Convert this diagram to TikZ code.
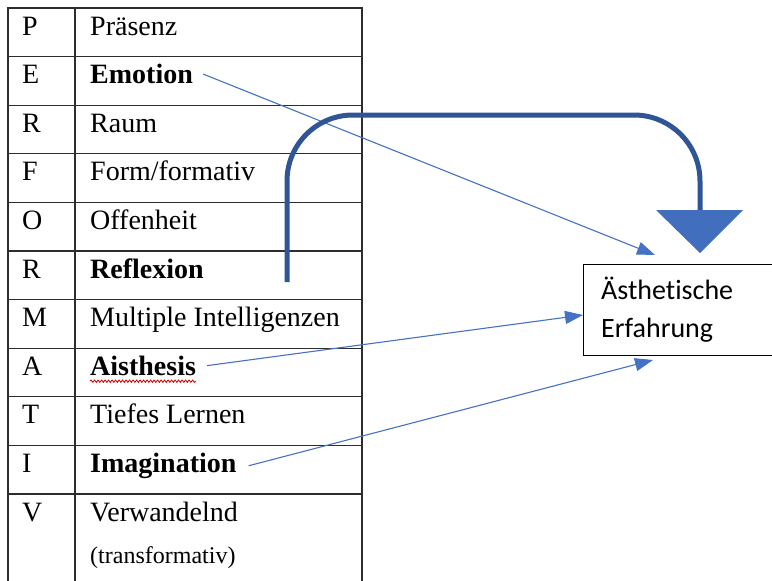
\documentclass[tikz,border=0pt]{standalone}
\usepackage{fontspec}
\setmainfont{Liberation Serif}
\newfontfamily\boxfont[RawFeature={-liga;-clig;-calt}]{Carlito}
\usetikzlibrary{arrows.meta,decorations.pathmorphing}
\definecolor{thinblue}{RGB}{68,114,196}
\definecolor{thickblue}{RGB}{47,85,151}
\definecolor{gridgray}{RGB}{45,45,45}
\begin{document}
\begin{tikzpicture}[x=1pt,y=-1pt,
  cell/.style={anchor=base west,inner sep=0pt,font=\fontsize{28}{34}\selectfont},
  bcell/.style={cell,font=\fontsize{28}{34}\selectfont\bfseries},
  scell/.style={anchor=base west,inner sep=0pt,font=\fontsize{24}{28}\selectfont},
  gridline/.style={draw=gridgray,line width=1.2pt},
  boxtext/.style={anchor=base west,inner sep=0pt,font=\boxfont\fontsize{28}{34}\selectfont},
  thinarrow/.style={draw=thinblue,line width=1.1pt,-{Triangle[width=13pt,length=18pt]}},
  thickconn/.style={draw=thickblue,line width=5pt,rounded corners=66pt},
  squiggle/.style={draw=red!85!black,line width=0.8pt,decorate,decoration={snake,amplitude=1.2pt,segment length=3.5pt}}
]
\useasboundingbox (0,0) rectangle (772,581);
\fill[white] (0,0) rectangle (772,581);

% table grid
\foreach \i in {0,...,10} \draw[gridline] (8,{8+48.6*\i}) -- (362,{8+48.6*\i});
\draw[gridline] (8,7.4) -- (8,590);
\draw[gridline] (75,7.4) -- (75,590);
\draw[gridline] (362,7.4) -- (362,590);

% first column letters
\node[cell] (l1) at (22,35) {P};
\node[cell] (l2) at (22,83.6) {E};
\node[cell] (l3) at (22,132.2) {R};
\node[cell] (l4) at (22,180.8) {F};
\node[cell] (l5) at (22,229.4) {O};
\node[cell] (l6) at (22,278) {R};
\node[cell] (l7) at (22,326.6) {M};
\node[cell] (l8) at (22,375.2) {A};
\node[cell] (l9) at (22,423.8) {T};
\node[cell] (l10) at (22,472.4) {I};
\node[cell] (l11) at (22,521) {V};

% second column
\node[cell] (w1) at (90,35) {Präsenz};
\node[bcell] (emo) at (90,83.6) {Emotion};
\node[cell] (w3) at (90,132.2) {Raum};
\node[cell] (w4) at (90,180.8) {Form/formativ};
\node[cell] (w5) at (90,229.4) {Offenheit};
\node[bcell] (refl) at (90,278) {Reflexion};
\node[cell] (w7) at (90,326.6) {Multiple Intelligenzen};
\node[bcell] (ais) at (90,375.2) {Aisthesis};
\node[cell] (w9) at (90,423.8) {Tiefes Lernen};
\node[bcell] (img) at (90,472.4) {Imagination};
\node[cell] (w11) at (90,521) {Verwandelnd};
\node[scell] (w11b) at (90,563) {(transformativ)};

% spell-check squiggle
\draw[squiggle] ([yshift=-5.5pt]ais.south west) -- ([yshift=-5.5pt]ais.south east);

% target box
\node[draw=black,line width=1.2pt,inner sep=0pt,minimum width=200pt,minimum height=91pt,anchor=north west] (box) at (583,264) {};
\node[boxtext] (bt1) at (601,299) {Ästhetische};
\node[boxtext] (bt2) at (601,337) {Erfahrung};

% arrow ends
\coordinate (emoEnd) at (655,255);
\coordinate (aisEnd) at (583,315);
\coordinate (imgEnd) at (653,360);
\coordinate (refS) at (287,282);
\coordinate (corner) at (700,115);
\coordinate (triTop) at (700,212);

\draw[thinarrow] ([xshift=10pt]emo.east) -- (emoEnd);
\draw[thinarrow] ([xshift=11pt]ais.east) -- (aisEnd);
\draw[thinarrow] ([xshift=12pt]img.east) -- (imgEnd);

% thick curved connector with big triangle head
\draw[thickconn] (refS) |- (corner) -- (triTop);
\fill[thinblue!85!thickblue] (656,210) -- (743,210) -- (700,253) -- cycle;
\end{tikzpicture}
\end{document}
